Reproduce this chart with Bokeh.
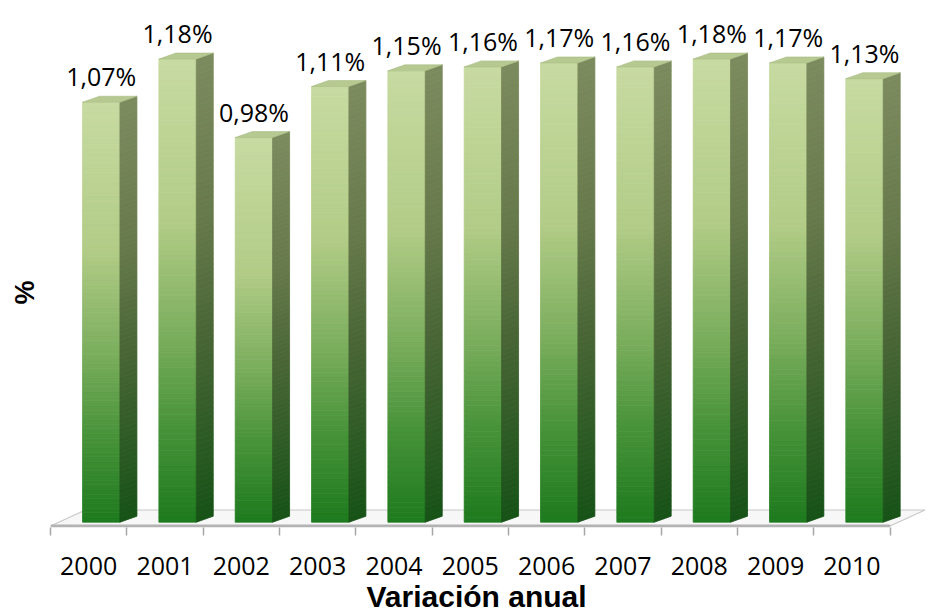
import numpy as np
from bokeh.plotting import figure
from bokeh.models import ColumnDataSource, LabelSet, FixedTicker, Range1d, Title
from bokeh.core.properties import value
from bokeh.embed import file_html
from bokeh.resources import INLINE

# ---------------- data ----------------
years = ["2000", "2001", "2002", "2003", "2004", "2005",
         "2006", "2007", "2008", "2009", "2010"]
values = [1.07, 1.18, 0.98, 1.11, 1.15, 1.16, 1.17, 1.16, 1.18, 1.17, 1.13]
value_labels = ["1,07%", "1,18%", "0,98%", "1,11%", "1,15%", "1,16%",
                "1,17%", "1,16%", "1,18%", "1,17%", "1,13%"]
x_title = "Variación anual"
y_title = "%"

# ---------------- layout ----------------
W, H = 928, 615
MB_L, MB_R, MB_T, MB_B = 48, 0, 10, 88
PX_X = 76.5     # pixels per category
PX_Y = 392.5    # pixels per value unit
frame_w = W - MB_L - MB_R
frame_h = H - MB_T - MB_B
x0 = -0.5
x1 = x0 + frame_w / PX_X
y0 = -5.3 / PX_Y
y1 = y0 + frame_h / PX_Y

p = figure(width=W, height=H, x_range=Range1d(x0, x1), y_range=Range1d(y0, y1),
           output_backend="svg", toolbar_location=None,
           min_border_left=MB_L, min_border_right=MB_R,
           min_border_top=MB_T, min_border_bottom=MB_B,
           outline_line_color=None)
p.grid.visible = False

n = len(values)
idx = np.arange(n, dtype=float)

# ---------------- floor ----------------
FDX = 35 / PX_X
FDY = 16 / PX_Y
yb = y0 + 1.5 / PX_Y
p.patch(x=[-0.5, n - 0.5, n - 0.5 + FDX, -0.5 + FDX],
        y=[yb, yb, yb + FDY, yb + FDY],
        fill_color="#f7f7f7", line_color="#c8c8c8", line_width=1.2)
p.segment(x0=[-0.5], y0=[yb], x1=[n - 0.5], y1=[yb],
          line_color="#b3b3b3", line_width=3)

# ---------------- 3D bars with gradient ----------------
FL, FR = -0.08, 0.41
DX = 17 / PX_X
DY = 6 / PX_Y
NS = 90

front_stops = [(0.0, (199, 218, 161)), (0.35, (178, 204, 135)), (0.6, (122, 173, 92)),
               (0.8, (70, 146, 56)), (1.0, (30, 122, 30))]
side_stops = [(0.0, (124, 139, 94)), (0.35, (102, 121, 74)), (0.6, (72, 101, 53)),
              (1.0, (22, 82, 22))]


def interp(stops, t):
    for (t0, c0), (t1, c1) in zip(stops[:-1], stops[1:]):
        if t <= t1:
            f = (t - t0) / (t1 - t0) if t1 > t0 else 0
            c = [round(a + (b - a) * f) for a, b in zip(c0, c1)]
            return "#%02x%02x%02x" % tuple(c)
    c = stops[-1][1]
    return "#%02x%02x%02x" % c


fl, fr, fb, ft, fc = [], [], [], [], []
sxs, sys_, sc = [], [], []
txs, tys = [], []
for i, v in zip(idx, values):
    edges = np.linspace(0, v, NS + 1)
    for k in range(NS):
        t = 1 - (edges[k] + edges[k + 1]) / 2 / v
        fl.append(i + FL); fr.append(i + FR); fb.append(edges[k]); ft.append(edges[k + 1])
        fc.append(interp(front_stops, t))
        sxs.append([i + FR, i + FR + DX, i + FR + DX, i + FR])
        sys_.append([edges[k], edges[k] + DY, edges[k + 1] + DY, edges[k + 1]])
        sc.append(interp(side_stops, t))
    txs.append([i + FL, i + FR, i + FR + DX, i + FL + DX])
    tys.append([v, v, v + DY, v + DY])

p.quad(left=fl, right=fr, bottom=fb, top=ft, fill_color=fc, line_color=fc, line_width=0.8)
p.patches(xs=sxs, ys=sys_, fill_color=sc, line_color=sc, line_width=0.8)
p.patches(xs=txs, ys=tys, fill_color="#b6c991", line_color="#a9bc85", line_width=0.6)

# ---------------- value labels ----------------
src = ColumnDataSource(dict(x=idx + (FL + FR) / 2, y=values, text=value_labels))
p.add_layout(LabelSet(x="x", y="y", text="text", source=src, y_offset=26,
                      text_align="center", text_baseline="middle",
                      text_font=value("Open Sans"), text_font_size="25px",
                      text_color="#000000"))

# ---------------- axes ----------------
xa = p.xaxis[0]
xa.ticker = FixedTicker(ticks=list(range(n)), minor_ticks=[k - 0.5 for k in range(n + 1)])
xa.major_label_overrides = {k: years[k] for k in range(n)}
xa.axis_line_color = None
xa.major_tick_line_color = None
xa.major_tick_out = 0
xa.major_tick_in = 0
xa.minor_tick_line_color = "#a6a6a6"
xa.minor_tick_line_width = 1.5
xa.minor_tick_out = 8
xa.minor_tick_in = 0
xa.major_label_standoff = 21
xa.major_label_text_font = "Open Sans"
xa.major_label_text_font_size = "25px"
xa.major_label_text_color = "#000000"

p.add_layout(Title(text=x_title, align="left", offset=316, standoff=0,
                   text_font="Liberation Sans", text_font_style="bold",
                   text_font_size="30px", text_color="#000000"), "below")

p.yaxis.visible = False
p.add_layout(Title(text=y_title, align="left", offset=223, standoff=18,
                   vertical_align="top",
                   text_font="Liberation Sans", text_font_style="bold",
                   text_font_size="27px", text_color="#000000"), "left")

open("out.html", "w").write(file_html(p, INLINE))
